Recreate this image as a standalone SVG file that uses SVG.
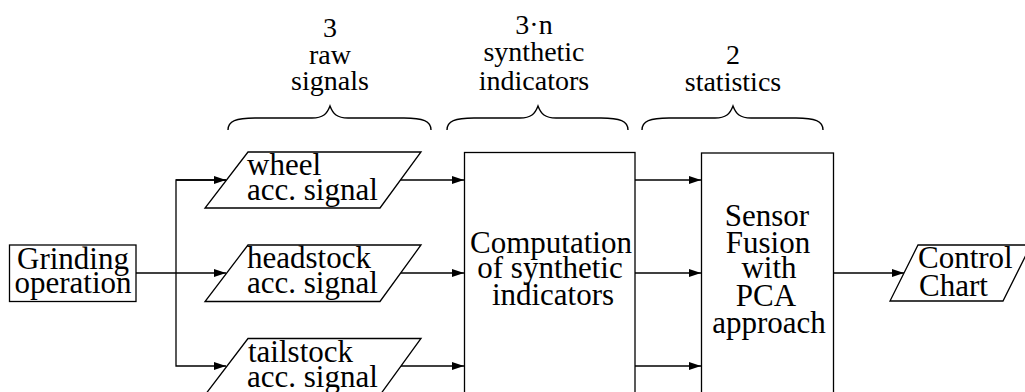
<svg xmlns="http://www.w3.org/2000/svg" width="1025" height="392" viewBox="0 0 1025 392">
  <style>
    .shape { fill: #fff; stroke: #000; stroke-width: 1.3; }
    .wire { fill: none; stroke: #000; stroke-width: 1.3; }
    .brace { fill: none; stroke: #000; stroke-width: 1.4; }
    text { font-family: "Liberation Serif", "Times New Roman", serif; fill: #000; }
    .lbl { font-size: 31px; }
    .hdr { font-size: 28px; text-anchor: middle; }
    .mid { text-anchor: middle; }
  </style>
  <defs>
    <marker id="arrow" viewBox="0 0 12 8" refX="12" refY="4" markerWidth="12" markerHeight="8" markerUnits="userSpaceOnUse" orient="auto">
      <path d="M0,0 L12,4 L0,8 Z" fill="#000"/>
    </marker>
  </defs>

  <rect width="1025" height="392" fill="#fff"/>

  <!-- group headers with braces -->
  <g id="header-raw">
    <text class="hdr" x="330" y="37">3</text>
    <text class="hdr" x="330" y="64">raw</text>
    <text class="hdr" x="330" y="90">signals</text>
    <path class="brace" d="M228,130 C228,121 236,118 255,118 L312,118 C323,118 327,114 330,106 C333,114 337,118 348,118 L404,118 C423,118 431,121 431,130"/>
  </g>
  <g id="header-synthetic">
    <text class="hdr" x="534" y="34">3·n</text>
    <text class="hdr" x="534" y="61">synthetic</text>
    <text class="hdr" x="534" y="90">indicators</text>
    <path class="brace" d="M447,130 C447,121 455,118 474,118 L520,118 C531,118 535,114 538,106 C541,114 545,118 556,118 L601,118 C620,118 628,121 628,130"/>
  </g>
  <g id="header-statistics">
    <text class="hdr" x="733" y="64">2</text>
    <text class="hdr" x="733" y="91">statistics</text>
    <path class="brace" d="M642,130 C642,121 650,118 669,118 L715,118 C726,118 730,114 733,106 C736,114 740,118 751,118 L796,118 C815,118 823,121 823,130"/>
  </g>

  <!-- connectors -->
  <g id="connectors">
    <path class="wire" d="M136,273 L226,273" marker-end="url(#arrow)"/>
    <path class="wire" d="M226,180 L176,180 L176,366 L226,366" marker-end="url(#arrow)"/>
    <path class="wire" d="M176,180 L226,180" marker-end="url(#arrow)"/>
    <path class="wire" d="M400,180 L464,180" marker-end="url(#arrow)"/>
    <path class="wire" d="M400,273 L464,273" marker-end="url(#arrow)"/>
    <path class="wire" d="M400,366 L464,366" marker-end="url(#arrow)"/>
    <path class="wire" d="M635,180 L701,180" marker-end="url(#arrow)"/>
    <path class="wire" d="M635,273 L701,273" marker-end="url(#arrow)"/>
    <path class="wire" d="M635,366 L701,366" marker-end="url(#arrow)"/>
    <path class="wire" d="M833,273 L904,273" marker-end="url(#arrow)"/>
  </g>

  <!-- nodes -->
  <g id="grinding">
    <rect class="shape" x="9.5" y="245" width="126.5" height="56.5"/>
    <text class="lbl mid" x="73" y="269">Grinding</text>
    <text class="lbl mid" x="73" y="293">operation</text>
  </g>

  <g id="wheel">
    <polygon class="shape" points="248,152 421,152 380,208 205,208"/>
    <text class="lbl" x="247" y="175">wheel</text>
    <text class="lbl" x="247" y="200">acc. signal</text>
  </g>

  <g id="headstock">
    <polygon class="shape" points="248,245 421,245 380,301.5 205,301.5"/>
    <text class="lbl" x="247" y="268">headstock</text>
    <text class="lbl" x="247" y="293">acc. signal</text>
  </g>

  <g id="tailstock">
    <polygon class="shape" points="248,338.5 421,338.5 380,395 205,395"/>
    <text class="lbl" x="248" y="362">tailstock</text>
    <text class="lbl" x="247" y="387">acc. signal</text>
  </g>

  <g id="computation">
    <rect class="shape" x="464.5" y="152.5" width="170.5" height="250"/>
    <text class="lbl mid" x="551" y="253">Computation</text>
    <text class="lbl mid" x="550" y="278">of synthetic</text>
    <text class="lbl mid" x="553" y="305">indicators</text>
  </g>

  <g id="sensor-fusion">
    <rect class="shape" x="701.5" y="153" width="132" height="250"/>
    <text class="lbl mid" x="767" y="226">Sensor</text>
    <text class="lbl mid" x="768" y="253">Fusion</text>
    <text class="lbl mid" x="769" y="278">with</text>
    <text class="lbl mid" x="766" y="306">PCA</text>
    <text class="lbl mid" x="769" y="333">approach</text>
  </g>

  <g id="control-chart">
    <polygon class="shape" points="918,245 1031,245 1003,301 890,301"/>
    <text class="lbl" x="918" y="268">Control</text>
    <text class="lbl" x="919" y="296">Chart</text>
  </g>
</svg>
